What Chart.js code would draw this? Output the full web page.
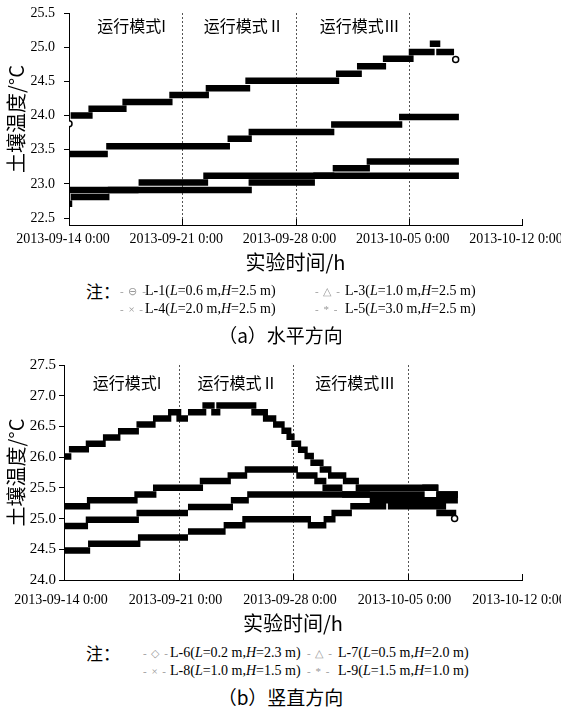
<!DOCTYPE html>
<html>
<head>
<meta charset="utf-8">
<script src="https://cdn.jsdelivr.net/npm/chart.js@4/dist/chart.umd.min.js"></script>
<style>
  html, body { margin:0; padding:0; background:#fff; }
  body { width:561px; height:711px; position:relative; overflow:hidden; font-family:"Liberation Serif", serif; color:#000; }
  canvas { position:absolute; left:0; }
  .t { position:absolute; white-space:nowrap; line-height:20px; height:20px; }
  .zh { font-family:"Noto Sans CJK SC", sans-serif; }
  .lg { font-size:14px; }
  .mk { font-size:11px; color:#999; letter-spacing:1px; }
  .cap { position:absolute; left:0; width:561px; text-align:center; font-family:"Noto Sans CJK SC", sans-serif; font-size:19px; line-height:26px; }
</style>
</head>
<body>
<canvas id="chartA" width="561" height="274" style="top:0px"></canvas>
<canvas id="chartB" width="561" height="290" style="top:345px"></canvas>

<div class="t zh" style="left:86px;top:281px;font-size:17px;">注：</div>
<div class="t mk" style="left:120px;top:281px;">- ⊖ -</div>
<div class="t lg" style="left:145px;top:281px;">L-1(<i>L</i>=0.6 m,<i>H</i>=2.5 m)</div>
<div class="t mk" style="left:315px;top:281px;">- △ -</div>
<div class="t lg" style="left:345px;top:281px;">L-3(<i>L</i>=1.0 m,<i>H</i>=2.5 m)</div>
<div class="t mk" style="left:120px;top:299px;">- × -</div>
<div class="t lg" style="left:145px;top:299px;">L-4(<i>L</i>=2.0 m,<i>H</i>=2.5 m)</div>
<div class="t mk" style="left:315px;top:299px;">- * -</div>
<div class="t lg" style="left:345px;top:299px;">L-5(<i>L</i>=3.0 m,<i>H</i>=2.5 m)</div>
<div class="cap" style="top:322px;">（a）水平方向</div>

<div class="t zh" style="left:86px;top:643px;font-size:17px;">注：</div>
<div class="t mk" style="left:143px;top:643px;">- ◇ -</div>
<div class="t lg" style="left:170px;top:643px;">L-6(<i>L</i>=0.2 m,<i>H</i>=2.3 m)</div>
<div class="t mk" style="left:307px;top:643px;">- △ -</div>
<div class="t lg" style="left:338px;top:643px;">L-7(<i>L</i>=0.5 m,<i>H</i>=2.0 m)</div>
<div class="t mk" style="left:143px;top:661px;">- × -</div>
<div class="t lg" style="left:170px;top:661px;">L-8(<i>L</i>=1.0 m,<i>H</i>=1.5 m)</div>
<div class="t mk" style="left:307px;top:661px;">- * -</div>
<div class="t lg" style="left:338px;top:661px;">L-9(<i>L</i>=1.5 m,<i>H</i>=1.0 m)</div>
<div class="cap" style="top:684px;">（b）竖直方向</div>

<script>
// ---------- data (days since 2013-09-14 0:00) ----------
const xTickDays = [0, 7, 14, 21, 28];
const xTickLabels = ['2013-09-14 0:00', '2013-09-21 0:00', '2013-09-28 0:00', '2013-10-05 0:00', '2013-10-12 0:00'];
const modeBoundaryDays = [7, 14, 21];
const modeNames = ['运行模式I', '运行模式Ⅱ', '运行模式Ⅲ'];
const yTicksA = [22.5, 23.0, 23.5, 24.0, 24.5, 25.0, 25.5];
const yTicksB = [24.0, 24.5, 25.0, 25.5, 26.0, 26.5, 27.0, 27.5];
const namesA = ['L-1', 'L-3', 'L-4', 'L-5'];
const namesB = ['L-6', 'L-7', 'L-8', 'L-9'];

// each entry: [start day, end day, temperature °C]
const L1 = [[0,0,23.88],[0.1,1.46,24.0],[1.2,3.56,24.1],[3.3,6.4,24.2],[6.2,8.65,24.3],[8.45,11.2,24.4],[10.9,16.7,24.51],[16.5,18.1,24.61],[17.8,19.6,24.72],[19.4,21.3,24.83],[21.0,22.6,24.93],[22.3,22.95,25.05],[22.7,23.8,24.93],[23.9,23.9,24.82]];
const L3 = [[0,2.4,23.44],[2.3,9.95,23.55],[9.8,11.3,23.66],[11.1,16.4,23.76],[16.2,20.6,23.87],[20.4,24.1,23.98]];
const L4 = [[0,0.2,22.71],[0.1,2.5,22.81],[2.4,11.3,22.91],[11.1,15.2,23.02],[15.1,16.4,23.12],[16.3,18.6,23.23],[18.4,24.1,23.33]];
const L5 = [[0,4.3,22.91],[4.3,8.6,23.02],[8.3,24.1,23.12]];

const L6 = [[0,0.45,26.01],[0.3,1.53,26.13],[1.33,2.55,26.22],[2.38,3.45,26.32],[3.3,4.58,26.42],[4.43,5.6,26.53],[5.44,6.56,26.63],[6.36,7.17,26.73],[6.87,7.58,26.63],[7.58,8.7,26.73],[8.46,9.21,26.84],[9.0,9.56,26.73],[9.31,11.76,26.84],[11.45,12.47,26.73],[12.16,12.98,26.63],[12.78,13.49,26.53],[13.29,13.9,26.43],[13.6,14.1,26.33],[13.9,14.5,26.22],[14.3,14.9,26.12],[14.7,15.28,26.02],[15.06,15.87,25.91],[15.63,16.35,25.8],[16.14,17.26,25.7],[17.05,18.03,25.61],[17.83,22.86,25.5],[22.76,24.08,25.39]];
const L7 = [[0,1.6,25.2],[1.4,4.5,25.3],[4.3,5.65,25.39],[5.44,8.5,25.5],[8.3,10.2,25.61],[10.0,11.2,25.7],[11.05,14.3,25.8],[14.2,15.5,25.7],[15.3,16.04,25.61],[15.8,17.02,25.5],[17.0,18.7,25.39],[18.69,24.08,25.3]];
const L8 = [[0,1.47,24.88],[1.33,4.58,24.98],[4.43,7.58,25.09],[7.58,10.33,25.19],[10.2,11.3,25.3],[11.2,22.05,25.39],[21.9,22.9,25.5],[22.76,24.08,25.39]];
const L9 = [[0,1.6,24.48],[1.47,4.67,24.59],[4.52,7.58,24.69],[7.58,9.88,24.79],[9.76,11.1,24.89],[10.9,15.1,24.99],[14.9,16.04,24.89],[15.87,16.6,24.99],[16.35,17.6,25.09],[17.5,19.7,25.2],[19.8,23.36,25.2],[22.76,23.98,25.09],[23.88,23.88,25.0]];

// ---------- build ----------
function segPoints(segs) {
  const pts = [];
  segs.forEach(([s, e, v]) => {
    if (s === e) pts.push({x: s, y: v, lone: true});
    else pts.push({x: s, y: v}, {x: e, y: v});
    pts.push({x: e, y: null});
  });
  return pts;
}
function makeDataset(name, segs) {
  return {
    label: name,
    data: segPoints(segs),
    borderColor: '#000',
    borderWidth: 6.5,
    borderCapStyle: 'butt',
    spanGaps: false,
    fill: false,
    tension: 0,
    pointRadius: c => (c.raw && c.raw.lone) ? 3 : 0,
    pointBackgroundColor: '#fff',
    pointBorderColor: '#000',
    pointBorderWidth: 1.5
  };
}

const decor = {
  id: 'decor',
  beforeDatasetsDraw(chart, args, o) {
    const {ctx, chartArea: a, scales: {x}} = chart;
    ctx.save();
    ctx.lineWidth = 1;
    ctx.strokeStyle = '#555';
    ctx.setLineDash([2, 2]);
    modeBoundaryDays.forEach(d => {
      const px = Math.round(x.getPixelForValue(d)) + 0.5;
      ctx.beginPath(); ctx.moveTo(px, a.top); ctx.lineTo(px, a.bottom); ctx.stroke();
    });
    ctx.setLineDash([]);
    ctx.strokeStyle = '#000';
    xTickDays.forEach(d => {
      const px = Math.round(x.getPixelForValue(d)) + 0.5;
      ctx.beginPath(); ctx.moveTo(px, a.bottom); ctx.lineTo(px, a.bottom - 6); ctx.stroke();
    });
    ctx.fillStyle = '#000';
    ctx.font = o.font;
    ctx.textAlign = 'center';
    ctx.textBaseline = 'middle';
    modeNames.forEach((t, i) => ctx.fillText(t, x.getPixelForValue(o.labelDays[i]), a.top + o.labelDy));
    ctx.restore();
  }
};

function makeChart(id, names, seriesList, yMin, yMax, yTicks, cfg) {
  return new Chart(document.getElementById(id), {
    type: 'line',
    data: { datasets: names.map((n, i) => makeDataset(n, seriesList[i])) },
    plugins: [decor],
    options: {
      responsive: false,
      animation: false,
      events: [],
      devicePixelRatio: 1,
      layout: { autoPadding: false, padding: { left: 0, right: cfg.padRight, top: cfg.padTop, bottom: 0 } },
      plugins: {
        legend: { display: false },
        tooltip: { enabled: false },
        decor: { font: '16px "Noto Sans CJK SC"', labelDays: cfg.labelDays, labelDy: cfg.labelDy }
      },
      scales: {
        x: {
          type: 'linear', min: 0, max: 28,
          afterFit: s => { s.height = cfg.xHeight; s.paddingLeft = 0; s.paddingRight = 0; },
          afterBuildTicks: s => { s.ticks = xTickDays.map(v => ({value: v})); },
          grid: { display: false, drawTicks: false },
          border: { display: true, color: '#000', width: 1 },
          ticks: {
            autoSkip: false, maxRotation: 0, minRotation: 0,
            padding: cfg.xTickPad, labelOffset: cfg.labelOffset,
            color: '#000', font: { family: '"Liberation Serif"', size: 14 },
            callback: (v, i) => xTickLabels[i]
          },
          title: {
            display: true, text: '实验时间/h', color: '#000',
            font: { family: '"Noto Sans CJK SC"', size: 20, lineHeight: 1.2 },
            padding: { top: 0, bottom: 0 }
          }
        },
        y: {
          min: yMin, max: yMax,
          afterFit: s => { s.width = cfg.yWidth; s.paddingTop = 0; s.paddingBottom = 0; },
          afterBuildTicks: s => { s.ticks = yTicks.map(v => ({value: v})); },
          grid: { display: true, drawOnChartArea: false, drawTicks: true, tickLength: 5, color: '#000', lineWidth: 1 },
          border: { display: true, color: '#000', width: 1 },
          ticks: {
            padding: cfg.yTickPad, color: '#000',
            font: { family: '"Liberation Serif"', size: cfg.yFont },
            callback: v => v.toFixed(1)
          },
          title: {
            display: true, text: '土壤温度/°C', color: '#000',
            font: { family: '"Noto Sans CJK SC"', size: 20, lineHeight: 1.2 },
            padding: { top: 4, bottom: 0 }
          }
        }
      }
    }
  });
}

makeChart('chartA', namesA, [L1, L3, L4, L5], 22.4, 25.5, yTicksA, {
  padRight: 39, padTop: 13, xHeight: 49, yWidth: 69,
  xTickPad: 6, labelOffset: -6, yTickPad: 9, yFont: 14,
  labelDays: [3.87, 10.8, 17.97], labelDy: 13
});
makeChart('chartB', namesB, [L6, L7, L8, L9], 24.0, 27.5, yTicksB, {
  padRight: 39, padTop: 20, xHeight: 55, yWidth: 64,
  xTickPad: 12, labelOffset: -3, yTickPad: 3, yFont: 15,
  labelDays: [3.86, 10.6, 17.8], labelDy: 18
});
</script>
</body>
</html>
